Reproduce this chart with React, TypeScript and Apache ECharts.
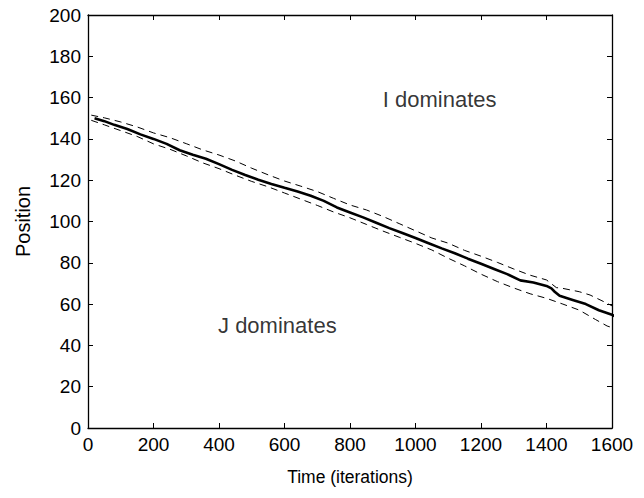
import React, { useEffect, useRef } from "react";
import * as echarts from "echarts";

const xTicks = [0, 200, 400, 600, 800, 1000, 1200, 1400, 1600];

const meanX = [20, 50, 80, 120, 160, 200, 240, 280, 320, 360, 400, 440, 480, 520, 560, 600, 640, 680, 720, 760, 800, 840, 880, 920, 960, 1000, 1040, 1080, 1120, 1160, 1200, 1240, 1280, 1320, 1360, 1400, 1415, 1425, 1440, 1480, 1520, 1560, 1600, 1620];
const meanY = [150.0, 148.6, 146.8, 144.8, 142.2, 140.0, 137.6, 134.5, 132.3, 130.4, 127.8, 125.0, 122.5, 120.2, 118.2, 116.3, 114.5, 112.5, 110.0, 106.8, 104.4, 102.0, 99.4, 96.8, 94.4, 92.0, 89.5, 87.0, 84.6, 82.0, 79.5, 77.0, 74.5, 71.5, 70.5, 68.8, 67.6, 66.0, 64.0, 62.0, 60.0, 57.0, 54.8, 53.3];

const upperX = [10, 50, 100, 150, 200, 250, 300, 350, 400, 450, 500, 550, 600, 650, 700, 750, 800, 850, 900, 950, 1000, 1050, 1100, 1150, 1200, 1250, 1300, 1350, 1400, 1430, 1450, 1500, 1533, 1580, 1620];
const upperY = [151.5, 150.2, 148.2, 145.8, 142.9, 140.6, 137.7, 134.7, 132.2, 129.3, 125.8, 122.6, 119.6, 117.1, 114.5, 111.2, 108.0, 105.6, 102.5, 99.0, 95.5, 92.0, 89.5, 86.0, 83.2, 80.2, 77.0, 74.0, 71.7, 68.0, 67.6, 66.0, 64.4, 60.8, 57.5];

const lowerX = [10, 50, 100, 150, 200, 250, 300, 350, 400, 450, 500, 550, 600, 650, 700, 750, 800, 850, 900, 950, 1000, 1050, 1100, 1150, 1200, 1250, 1300, 1350, 1400, 1450, 1500, 1550, 1585, 1612];
const lowerY = [149.0, 146.8, 144.0, 141.2, 137.6, 135.0, 131.8, 128.4, 125.6, 122.4, 119.4, 116.8, 113.8, 110.8, 107.8, 104.6, 101.8, 98.6, 95.4, 92.4, 89.4, 86.2, 82.2, 78.5, 74.5, 70.9, 67.8, 65.0, 62.8, 60.0, 57.1, 52.5, 49.4, 48.0];

const annotations: [number, number, string][] = [
  [900, 159, "I dominates"],
  [397, 49.5, "J dominates"],
];

const zip = (xs: number[], ys: number[]) => xs.map((x, i) => [x, ys[i]]);

const FONT = "Liberation Sans";

export default function App() {
  const ref = useRef<HTMLDivElement>(null);
  useEffect(() => {
    if (!ref.current) return;
    const chart = echarts.init(ref.current, null, { renderer: "svg" });
    const axisCommon = {
      axisLine: { show: true, onZero: false, lineStyle: { color: "#000", width: 1.3 } },
      axisTick: { show: true, inside: true, length: 5, lineStyle: { color: "#000", width: 1 } },
      splitLine: { show: false },
    };
    chart.setOption({
      animation: false,
      backgroundColor: "#fff",
      grid: { left: 88, right: 32, top: 15, bottom: 70, containLabel: false },
      xAxis: [
        {
          type: "value",
          min: xTicks[0],
          max: xTicks[xTicks.length - 1],
          interval: 200,
          name: "Time (iterations)",
          nameLocation: "middle",
          nameGap: 40,
          nameTextStyle: { color: "#000", fontSize: 17.5, fontFamily: FONT },
          axisLabel: { color: "#000", fontSize: 19, fontFamily: FONT, margin: 7, formatter: (v: number) => String(v) },
          ...axisCommon,
        },
        {
          type: "value",
          position: "top",
          min: xTicks[0],
          max: xTicks[xTicks.length - 1],
          interval: 200,
          axisLabel: { show: false },
          ...axisCommon,
        },
      ],
      yAxis: [
        {
          type: "value",
          min: 0,
          max: 200,
          interval: 20,
          name: "Position",
          nameLocation: "middle",
          nameGap: 55,
          nameTextStyle: { color: "#000", fontSize: 20, fontFamily: FONT },
          axisLabel: { color: "#000", fontSize: 19, fontFamily: FONT, margin: 7 },
          ...axisCommon,
        },
        {
          type: "value",
          position: "right",
          min: 0,
          max: 200,
          interval: 20,
          axisLabel: { show: false },
          ...axisCommon,
        },
      ],
      series: [
        {
          type: "line",
          data: zip(upperX, upperY),
          showSymbol: false,
          clip: false,
          lineStyle: { color: "#000", width: 1, type: [7, 5] },
        },
        {
          type: "line",
          data: zip(lowerX, lowerY),
          showSymbol: false,
          clip: false,
          lineStyle: { color: "#000", width: 1, type: [7, 5] },
        },
        {
          type: "line",
          data: zip(meanX, meanY),
          showSymbol: false,
          clip: false,
          lineStyle: { color: "#000", width: 2.6 },
        },
        {
          type: "scatter",
          symbolSize: 0,
          data: annotations.map((a) => ({ value: [a[0], a[1]], name: a[2] })),
          label: {
            show: true,
            position: "right",
            distance: 0,
            formatter: (p: any) => p.name,
            color: "#000",
            fontSize: 22,
            fontFamily: FONT,
          },
        },
      ],
    });
    return () => chart.dispose();
  }, []);
  return <div ref={ref} style={{ width: 644, height: 498, position: "absolute", left: 0, top: 0 }} />;
}
